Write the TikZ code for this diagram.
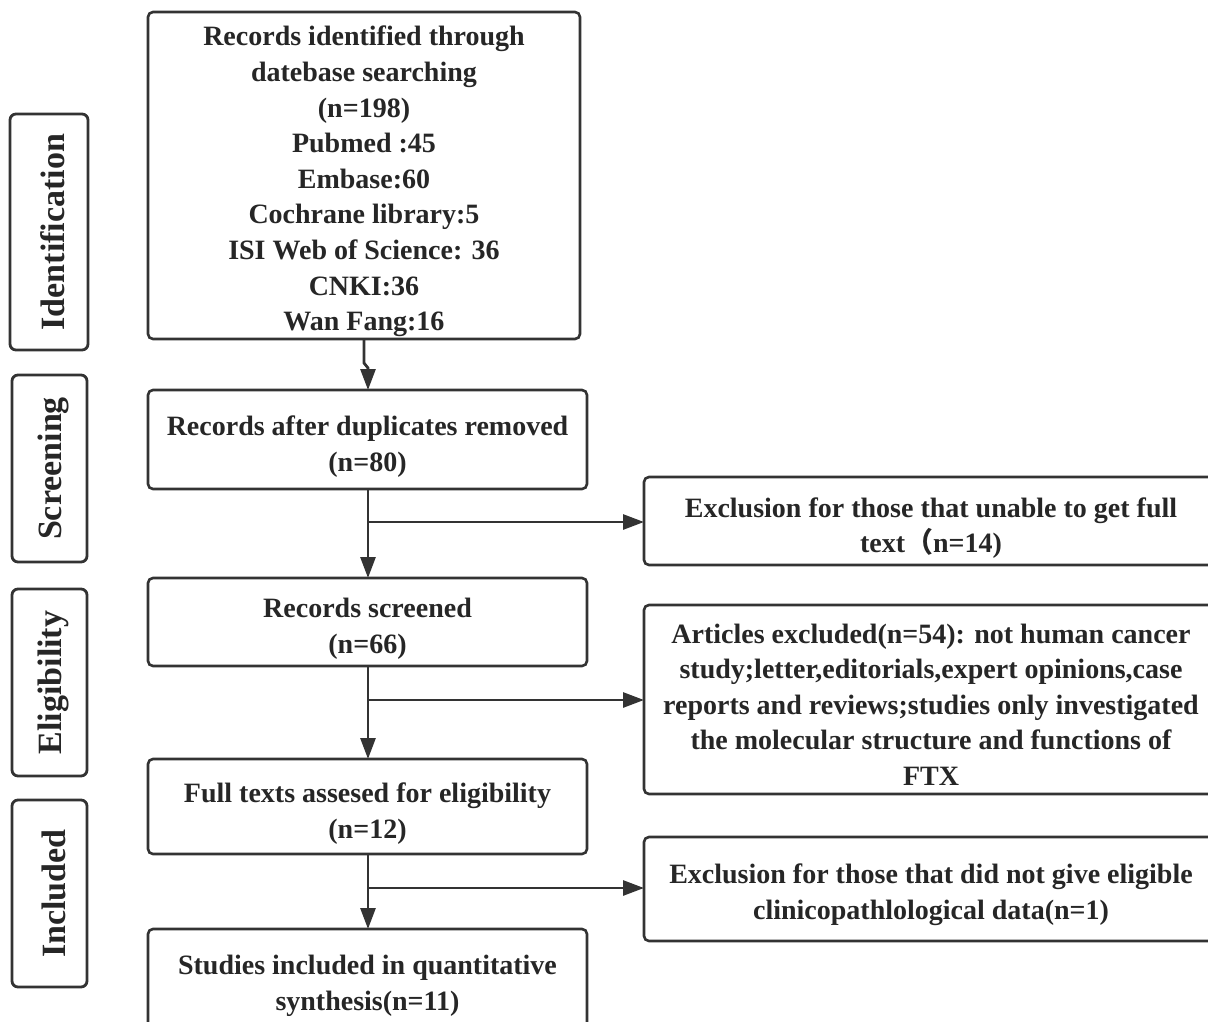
\documentclass[tikz,border=0pt]{standalone}
\usepackage{fontspec}
\setmainfont{Liberation Serif}
\newfontfamily\cjk{Noto Sans CJK SC}
\usetikzlibrary{arrows.meta}
\definecolor{ln}{HTML}{333333}
\definecolor{tx}{HTML}{262626}
\begin{document}
\begin{tikzpicture}[x=1pt,y=-1pt,
  box/.style={draw=ln, line width=2.6pt, rounded corners=5pt, inner sep=0pt, outer sep=0pt},
  txt/.style={inner sep=0pt, align=center, text=tx, font={\fontsize{28}{35.6}\selectfont\bfseries}},
  side/.style={draw=ln, line width=2.8pt, rounded corners=6pt, inner sep=0pt, outer sep=0pt, rotate=90},
  stxt/.style={inner sep=0pt, rotate=90, text=tx, font={\fontsize{34}{40}\selectfont\bfseries}},
  conn/.style={draw=ln, line width=2.8pt, -{Triangle[length=21pt,width=15pt]}}]
\useasboundingbox (0,0) rectangle (1208,1021);
\clip (0,0) rectangle (1208,1021);
\fill[white] (0,0) rectangle (1208,1021);

% side labels
\node[side, minimum width=236pt, minimum height=78pt] (sid) at (49,232) {};
\node[side, minimum width=187pt, minimum height=75pt] (ssc) at (49.5,468.5) {};
\node[side, minimum width=187pt, minimum height=75pt] (sel) at (49.5,682.5) {};
\node[side, minimum width=187pt, minimum height=75pt] (sin) at (49.5,893.5) {};
\node[stxt] (tid) at ([xshift=4pt]sid.center) {Identification};
\node[stxt] (tsc) at ([xshift=4pt]ssc.center) {Screening};
\node[stxt] (tel) at ([xshift=4pt]sel.center) {Eligibility};
\node[stxt] (tin) at ([xshift=4pt]sin.center) {Included};

% main column
\node[box, minimum width=432pt, minimum height=327pt] (a) at (364,175.5) {};
\node[box, minimum width=439pt, minimum height=99pt] (b) at (367.5,439.5) {};
\node[box, minimum width=439pt, minimum height=88pt] (c) at (367.5,622) {};
\node[box, minimum width=439pt, minimum height=95pt] (d) at (367.5,806.5) {};
\node[box, minimum width=439pt, minimum height=106pt] (e) at (367.5,982) {};

\node[txt] (ta) at ([yshift=-6pt]a.center)
  {Records identified through\\ datebase searching\\ (n=198)\\ Pubmed :45\\ Embase:60\\ Cochrane library:5\\ ISI Web of Science: 36\\ CNKI:36\\ Wan Fang:16};
\node[txt] (tb) at ([yshift=-7pt]b.center) {Records after duplicates removed\\ (n=80)};
\node[txt] (tc) at ([yshift=-7pt]c.center) {Records screened\\ (n=66)};
\node[txt] (td) at ([yshift=-7pt]d.center) {Full texts assesed for eligibility\\ (n=12)};
\node[txt] (te) at ([yshift=-4pt]e.center) {Studies included in quantitative\\ synthesis(n=11)};

% right column
\node[box, minimum width=574pt, minimum height=88pt] (r1) at (931,521) {};
\node[box, minimum width=574pt, minimum height=189pt] (r2) at (931,699.5) {};
\node[box, minimum width=574pt, minimum height=104pt] (r3) at (931,889) {};

\node[txt] (t1) at ([yshift=-7pt]r1.center) {Exclusion for those that unable to get full\\ text{\cjk （}n=14)};
\node[txt] (t2) at ([yshift=-5pt]r2.center)
  {Articles excluded(n=54): not human cancer\\ study;letter,editorials,expert opinions,case\\ reports and reviews;studies only investigated\\ the molecular structure and functions of\\ FTX};
\node[txt] (t3) at ([yshift=-6pt]r3.center) {Exclusion for those that did not give eligible\\ clinicopathlological data(n=1)};

% connectors
\coordinate (j1) at (364,363);
\coordinate (j2) at (368,368);
\draw[conn] (a.south) -- (j1) -- (j2) -- (j2 |- b.north);

\coordinate (k1) at (368,522);
\coordinate (k2) at (368,700);
\coordinate (k3) at (368,888);
\draw[conn] (b.south -| k1) -- (c.north -| k1);
\draw[conn] (c.south -| k2) -- (d.north -| k2);
\draw[conn] (d.south -| k3) -- (e.north -| k3);
\draw[conn] (k1) -- (k1 -| r1.west);
\draw[conn] (k2) -- (k2 -| r2.west);
\draw[conn] (k3) -- (k3 -| r3.west);
\end{tikzpicture}
\end{document}
